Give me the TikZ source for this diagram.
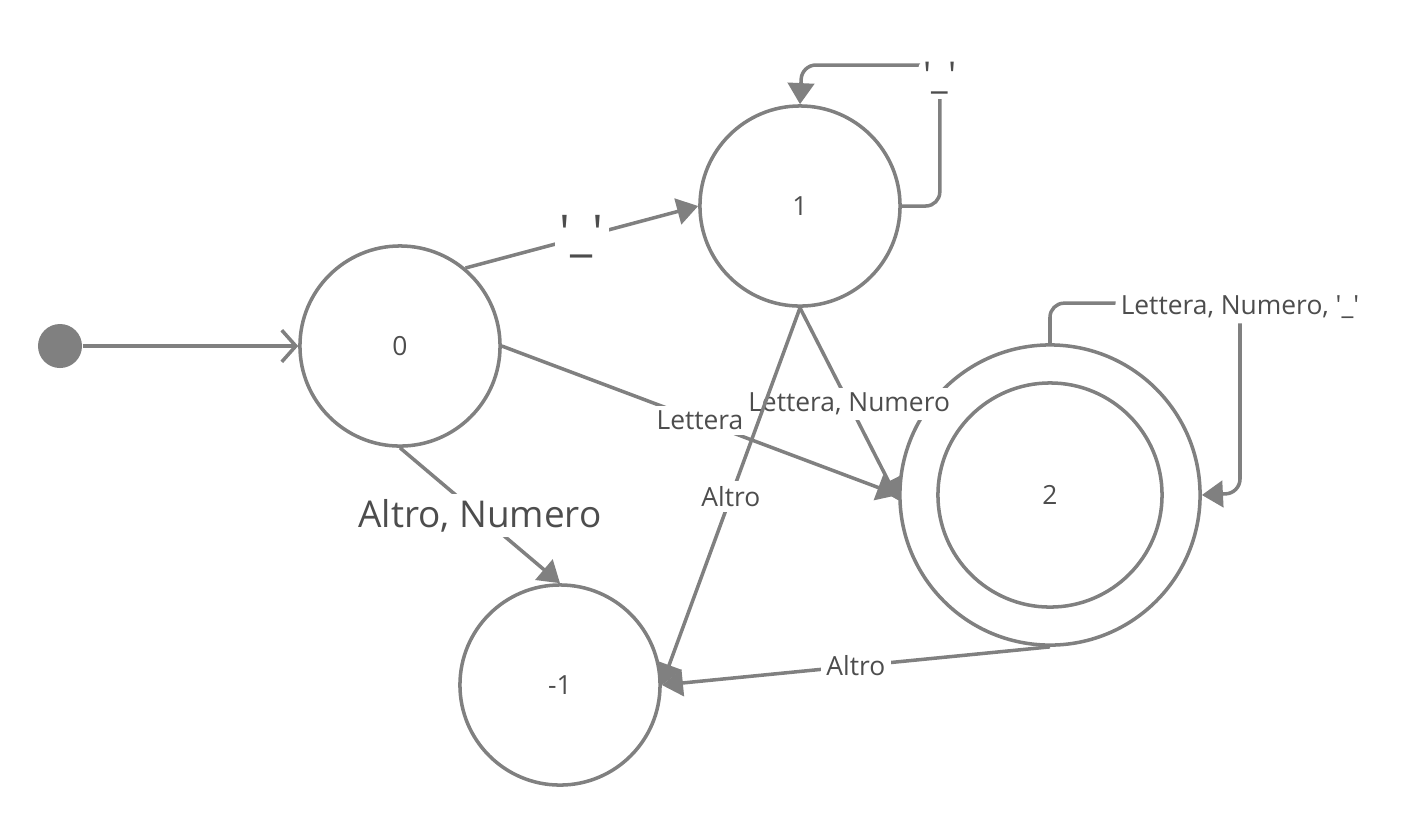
\documentclass[tikz,border=0pt]{standalone}
\usepackage{fontspec}
\setmainfont{Open Sans}
\usetikzlibrary{arrows.meta}
\definecolor{lgray}{HTML}{808080}
\definecolor{tgray}{HTML}{4d4d4d}
\newcommand{\uq}{\textquotesingle\_\textquotesingle}
\tikzset{
  state/.style={circle,draw=lgray,line width=1pt,minimum size=2cm,inner sep=0pt,text=tgray,font=\fontsize{7.5}{9}\selectfont},
  edge/.style={draw=lgray,line width=1pt,-{Triangle[length=6pt,width=7.5pt]}},
  lbl/.style={fill=white,inner sep=1.5pt,text=tgray,font=\fontsize{7.5}{9}\selectfont},
  biglbl/.style={lbl,font=\fontsize{10.5}{12}\selectfont}
}
\begin{document}
\begin{tikzpicture}[x=0.01cm,y=-0.01cm]
      \useasboundingbox (0,0) rectangle (1405,826);
      \node[circle,fill=lgray,minimum size=0.44cm,inner sep=0pt] (start) at (60,346) {};
      \node[state] (s0) at (400,346) {0};
      \node[state] (s1) at (800,206) {1};
      \node[state,minimum size=3cm] (s2) at (1050,495) {};
      \node[state,minimum size=2.24cm] (s2in) at (1050,495) {2};
      \node[state] (sm) at (560,685) {-1};
      \draw[edge,-{Straight Barb[length=4pt,width=9pt]}] (start) -- (s0.west);
      \draw[edge] (s0.50) -- node[biglbl,font=\fontsize{14}{16}\selectfont]{\uq} (s1.west);
      \draw[edge] (s0.east) -- node[lbl]{Lettera} (s2.west);
      \draw[edge] (s0.south) -- node[biglbl]{Altro, Numero} (sm.north);
      \draw[edge] (s1.south) -- node[lbl]{Lettera, Numero} (s2.182);
      \draw[edge] (s1.south) -- node[lbl]{Altro} (sm.east);
      \draw[edge] (s2.south) -- node[lbl]{Altro} (sm.east);
      \draw[edge,rounded corners=4pt] (s1.east) -- ++(38,0) -- node[biglbl,pos=0.91]{\uq} ++(0,-141) -- ++(-138,0) -- (s1.north);
      \draw[edge,rounded corners=4pt] (s2.north) -- ++(0,-40) -- node[lbl,pos=1,yshift=-1]{Lettera, Numero, \uq} ++(190,0) -- ++(0,190) -- (s2.east);
    \end{tikzpicture}
\end{document}
